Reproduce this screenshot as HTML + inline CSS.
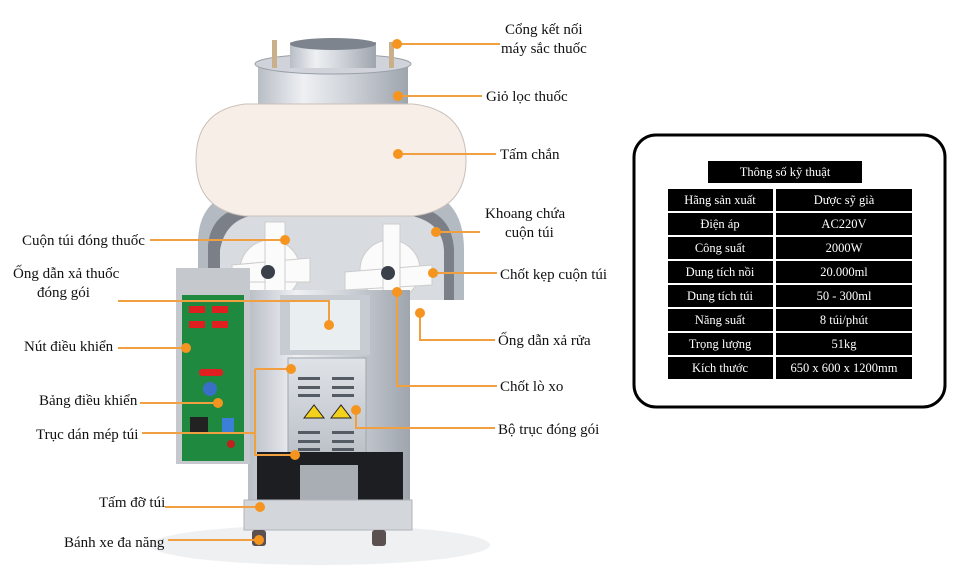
<!DOCTYPE html>
<html><head><meta charset="utf-8">
<style>
html,body{margin:0;padding:0;background:#fff;}
svg{display:block;}
.l{font-family:"Liberation Serif",serif;font-size:15px;fill:#111;}
.t{font-family:"Liberation Serif",serif;font-size:12.5px;fill:#fff;text-anchor:middle;}
.o{stroke:#f0a040;stroke-width:2;fill:none;}
.d{fill:#f5951f;}
</style></head>
<body>
<svg width="975" height="578" viewBox="0 0 975 578" xmlns="http://www.w3.org/2000/svg">
<defs>
<linearGradient id="steel" x1="0" x2="1" y1="0" y2="0">
<stop offset="0" stop-color="#b9bec6"/><stop offset="0.3" stop-color="#eef0f3"/><stop offset="0.6" stop-color="#cfd3d9"/><stop offset="1" stop-color="#9fa5ad"/>
</linearGradient>
<linearGradient id="steel2" x1="0" x2="0" y1="0" y2="1">
<stop offset="0" stop-color="#dfe3e8"/><stop offset="1" stop-color="#b8bdc4"/>
</linearGradient>
</defs>
<ellipse cx="320" cy="545" rx="170" ry="20" fill="#eef0f2"/>
<!-- hopper -->
<rect x="258" y="62" width="150" height="50" fill="url(#steel)"/>
<ellipse cx="333" cy="64" rx="78" ry="10" fill="#d0d4da" stroke="#9aa0a8"/>
<rect x="290" y="42" width="86" height="26" fill="url(#steel)"/>
<ellipse cx="333" cy="44" rx="43" ry="6" fill="#7d848e"/>
<rect x="272" y="40" width="5" height="28" fill="#c9b08a"/>
<rect x="389" y="42" width="5" height="26" fill="#c9b08a"/>
<!-- drum -->
<path d="M198 300 L198 240 Q200 190 258 188 L410 188 Q464 192 464 250 L464 300 Z" fill="#b4bac2"/>
<path d="M208 300 L208 245 Q212 205 262 205 L405 205 Q452 208 454 250 L454 300 Z" fill="#7b8088"/>
<path d="M220 300 L220 250 Q226 215 265 214 L400 214 Q442 218 444 250 L444 300 Z" fill="#d8dbe0"/>
<!-- shield -->
<path d="M245 104 L413 104 Q466 110 466 160 Q466 210 413 216 L245 216 Q196 210 196 160 Q196 110 245 104 Z" fill="#f7eee8" stroke="#c9c0ba"/>
<!-- rollers -->
<g fill="#fbfbfb" stroke="#ccc">
<circle cx="270" cy="270" r="30"/><circle cx="390" cy="270" r="30"/>
<path d="M232 265 L310 258 L310 282 L232 282 Z"/><path d="M265 222 L285 222 L285 300 L265 300 Z"/>
<path d="M345 272 L432 265 L432 285 L345 290 Z"/><path d="M383 224 L400 224 L400 300 L383 300 Z"/>
</g>
<circle cx="268" cy="272" r="7" fill="#394049"/><circle cx="388" cy="273" r="7" fill="#394049"/>
<!-- main body -->
<rect x="248" y="290" width="162" height="240" fill="url(#steel)"/>
<rect x="280" y="295" width="90" height="60" fill="#c6ccd2"/>
<rect x="290" y="300" width="70" height="50" fill="#e9eef0"/>
<!-- front box -->
<rect x="288" y="358" width="78" height="108" fill="url(#steel2)" stroke="#a0a6ae"/>
<g fill="#555b63">
<rect x="298" y="377" width="22" height="3"/><rect x="332" y="377" width="22" height="3"/>
<rect x="298" y="386" width="22" height="3"/><rect x="332" y="386" width="22" height="3"/>
<rect x="298" y="394" width="22" height="3"/><rect x="332" y="394" width="22" height="3"/>
<rect x="298" y="431" width="22" height="3"/><rect x="332" y="431" width="22" height="3"/>
<rect x="298" y="440" width="22" height="3"/><rect x="332" y="440" width="22" height="3"/>
<rect x="298" y="448" width="22" height="3"/><rect x="332" y="448" width="22" height="3"/>
</g>
<path d="M304 418 L314 405 L324 418 Z" fill="#f4d21c" stroke="#222"/>
<path d="M331 418 L341 405 L351 418 Z" fill="#f4d21c" stroke="#222"/>
<!-- black tray -->
<rect x="257" y="452" width="146" height="58" fill="#1c1e22"/>
<rect x="300" y="465" width="58" height="60" fill="#a9aeb5"/>
<rect x="244" y="500" width="168" height="30" fill="#d3d6db" stroke="#b0b5bb"/>
<rect x="252" y="530" width="14" height="16" rx="3" fill="#5a5050"/>
<rect x="372" y="530" width="14" height="16" rx="3" fill="#5a5050"/>
<!-- green panel -->
<rect x="176" y="268" width="74" height="196" fill="#c5c9ce"/>
<rect x="182" y="295" width="62" height="166" fill="#1f8a3f"/>
<g fill="#e02020">
<rect x="189" y="306" width="16" height="7"/><rect x="212" y="306" width="16" height="7"/>
<rect x="189" y="321" width="16" height="7"/><rect x="212" y="321" width="16" height="7"/>
<rect x="199" y="369" width="24" height="7" rx="3"/>
</g>
<circle cx="210" cy="389" r="7" fill="#3a6fc8"/>
<rect x="190" y="417" width="18" height="16" fill="#222"/>
<rect x="222" y="418" width="12" height="15" fill="#3b7fd8"/>
<circle cx="231" cy="444" r="4" fill="#c02020"/>
<!-- connectors -->
<g class="o">
<path d="M397 44 H500"/>
<path d="M398 96 H482"/>
<path d="M398 154 H496"/>
<path d="M436 232 H480"/>
<path d="M433 273 H497"/>
<path d="M420 313 V340 H495"/>
<path d="M397 292 V386 H497"/>
<path d="M356 410 V428 H495"/>
<path d="M150 240 H285"/>
<path d="M118 301 H329 V325"/>
<path d="M118 348 H186"/>
<path d="M140 403 H218"/>
<path d="M142 433 H255"/>
<path d="M255 369 H291 M255 369 V455 H295"/>
<path d="M165 507 H260"/>
<path d="M168 540 H259"/>
</g>
<g class="d">
<circle cx="397" cy="44" r="5"/><circle cx="398" cy="96" r="5"/><circle cx="398" cy="154" r="5"/>
<circle cx="436" cy="232" r="5"/><circle cx="433" cy="273" r="5"/><circle cx="420" cy="313" r="5"/>
<circle cx="397" cy="292" r="5"/><circle cx="356" cy="410" r="5"/><circle cx="285" cy="240" r="5"/>
<circle cx="329" cy="325" r="5"/><circle cx="186" cy="348" r="5"/><circle cx="218" cy="403" r="5"/>
<circle cx="291" cy="369" r="5"/><circle cx="295" cy="455" r="5"/><circle cx="260" cy="507" r="5"/>
<circle cx="259" cy="540" r="5"/>
</g>
<!-- labels -->
<text class="l" x="505" y="34">Cổng kết nối</text>
<text class="l" x="501" y="53">máy sắc thuốc</text>
<text class="l" x="486" y="101">Giỏ lọc thuốc</text>
<text class="l" x="500" y="159">Tấm chắn</text>
<text class="l" x="485" y="218">Khoang chứa</text>
<text class="l" x="505" y="237">cuộn túi</text>
<text class="l" x="500" y="279">Chốt kẹp cuộn túi</text>
<text class="l" x="498" y="345">Ống dẫn xả rửa</text>
<text class="l" x="500" y="391">Chốt lò xo</text>
<text class="l" x="498" y="434">Bộ trục đóng gói</text>
<text class="l" x="22" y="245">Cuộn túi đóng thuốc</text>
<text class="l" x="13" y="278">Ống dẫn xả thuốc</text>
<text class="l" x="37" y="297">đóng gói</text>
<text class="l" x="24" y="351">Nút điều khiển</text>
<text class="l" x="39" y="405">Bảng điều khiển</text>
<text class="l" x="36" y="439">Trục dán mép túi</text>
<text class="l" x="99" y="507">Tấm đỡ túi</text>
<text class="l" x="64" y="547">Bánh xe đa năng</text>
<!-- table -->
<rect x="634" y="135" width="311" height="272" rx="22" fill="#fff" stroke="#000" stroke-width="3"/>
<rect x="708" y="161" width="154" height="22" fill="#000"/>
<text class="t" x="785" y="176">Thông số kỹ thuật</text>
<g fill="#000">
<rect x="668" y="189" width="105" height="22"/><rect x="776" y="189" width="136" height="22"/>
<rect x="668" y="213" width="105" height="22"/><rect x="776" y="213" width="136" height="22"/>
<rect x="668" y="237" width="105" height="22"/><rect x="776" y="237" width="136" height="22"/>
<rect x="668" y="261" width="105" height="22"/><rect x="776" y="261" width="136" height="22"/>
<rect x="668" y="285" width="105" height="22"/><rect x="776" y="285" width="136" height="22"/>
<rect x="668" y="309" width="105" height="22"/><rect x="776" y="309" width="136" height="22"/>
<rect x="668" y="333" width="105" height="22"/><rect x="776" y="333" width="136" height="22"/>
<rect x="668" y="357" width="105" height="22"/><rect x="776" y="357" width="136" height="22"/>
</g>
<text class="t" x="720" y="204">Hãng sản xuất</text><text class="t" x="844" y="204">Dược sỹ già</text>
<text class="t" x="720" y="228">Điện áp</text><text class="t" x="844" y="228">AC220V</text>
<text class="t" x="720" y="252">Công suất</text><text class="t" x="844" y="252">2000W</text>
<text class="t" x="720" y="276">Dung tích nồi</text><text class="t" x="844" y="276">20.000ml</text>
<text class="t" x="720" y="300">Dung tích túi</text><text class="t" x="844" y="300">50 - 300ml</text>
<text class="t" x="720" y="324">Năng suất</text><text class="t" x="844" y="324">8 túi/phút</text>
<text class="t" x="720" y="348">Trọng lượng</text><text class="t" x="844" y="348">51kg</text>
<text class="t" x="720" y="372">Kích thước</text><text class="t" x="844" y="372">650 x 600 x 1200mm</text>
</svg>
</body></html>
